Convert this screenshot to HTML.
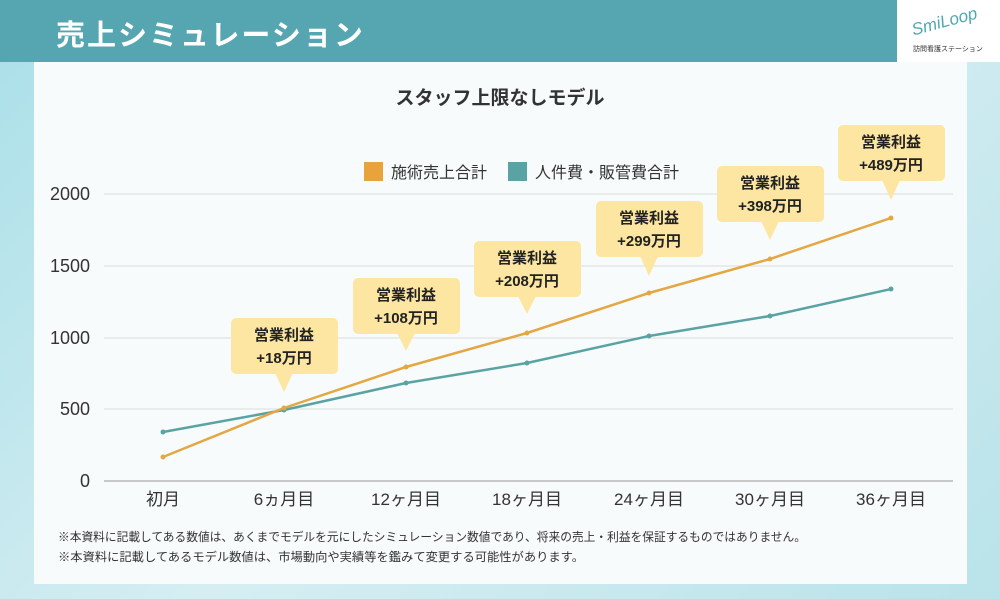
<!DOCTYPE html>
<html><head><meta charset="utf-8"><style>
body{margin:0;width:1000px;height:599px;overflow:hidden;font-family:"Liberation Sans","Noto Sans CJK JP",sans-serif;background:linear-gradient(135deg,#a9dfe8 0%,#d6eef2 50%,#b9e3ea 100%);position:relative}
.hdr{position:absolute;left:0;top:0;width:897px;height:62px;background:#56a6b1;}
.hdr span{position:absolute;left:56px;top:12px;color:#fff;font-size:29px;font-weight:bold;letter-spacing:2px}
.logo{position:absolute;left:897px;top:0;width:103px;height:62px;background:#fff}
.panel{position:absolute;left:34px;top:62px;width:933px;height:522px;background:#f8fbfb}
.t{position:absolute;font-family:"Liberation Sans","Noto Sans CJK JP",sans-serif}
</style></head><body>
<div class="hdr"><span>売上シミュレーション</span></div>
<div class="logo">
<div class="t" style="left:14px;top:12px;color:#4fa7b0;font-size:17px;font-style:italic;transform:rotate(-15deg)">SmiLoop</div>
<div class="t" style="left:16px;top:44px;color:#333;font-size:7px">訪問看護ステーション</div>
</div>
<div class="panel"></div>
<svg width="1000" height="599" style="position:absolute;left:0;top:0" font-family="Liberation Sans, Noto Sans CJK JP, sans-serif">
<text x="500" y="104" text-anchor="middle" font-size="19" font-weight="bold" fill="#333">スタッフ上限なしモデル</text>
<rect x="364" y="162" width="19" height="19" fill="#e8a33b"/>
<text x="391" y="178" font-size="16" fill="#333">施術売上合計</text>
<rect x="508" y="162" width="19" height="19" fill="#5aa3a4"/>
<text x="535" y="178" font-size="16" fill="#333">人件費・販管費合計</text>
<g stroke="#dcdcdc" stroke-width="1">
<line x1="104" y1="194" x2="953" y2="194"/><line x1="104" y1="266" x2="953" y2="266"/>
<line x1="104" y1="338" x2="953" y2="338"/><line x1="104" y1="409" x2="953" y2="409"/>
</g>
<line x1="104" y1="481" x2="953" y2="481" stroke="#c8c8c8" stroke-width="2"/>
<g font-size="18" fill="#333" text-anchor="end">
<text x="90" y="200">2000</text><text x="90" y="272">1500</text><text x="90" y="344">1000</text><text x="90" y="415">500</text><text x="90" y="487">0</text>
</g>
<g font-size="17" fill="#333" text-anchor="middle">
<text x="163" y="505">初月</text><text x="284" y="505">6ヵ月目</text><text x="406" y="505">12ヶ月目</text><text x="527" y="505">18ヶ月目</text><text x="649" y="505">24ヶ月目</text><text x="770" y="505">30ヶ月目</text><text x="891" y="505">36ヶ月目</text>
</g>
<polyline points="163,432 284,410 406,383 527,363 649,336 770,316 891,289" fill="none" stroke="#5aa3a4" stroke-width="2.5"/>
<polyline points="163,457 284,408 406,367 527,333 649,293 770,259 891,218" fill="none" stroke="#e3a743" stroke-width="2.5"/>
<g fill="#5aa3a4"><circle cx="163" cy="432" r="2.5"/><circle cx="284" cy="410" r="2.5"/><circle cx="406" cy="383" r="2.5"/><circle cx="527" cy="363" r="2.5"/><circle cx="649" cy="336" r="2.5"/><circle cx="770" cy="316" r="2.5"/><circle cx="891" cy="289" r="2.5"/></g>
<g fill="#e3a743"><circle cx="163" cy="457" r="2.5"/><circle cx="284" cy="408" r="2.5"/><circle cx="406" cy="367" r="2.5"/><circle cx="527" cy="333" r="2.5"/><circle cx="649" cy="293" r="2.5"/><circle cx="770" cy="259" r="2.5"/><circle cx="891" cy="218" r="2.5"/></g>
<g fill="#fce6a2" font-size="15" font-weight="bold" text-anchor="middle">
<g transform="translate(284,318)"><rect x="-53" y="0" width="107" height="56" rx="5"/><polygon points="-9,55 9,55 0,74"/><text y="22" fill="#222">営業利益</text><text y="45" fill="#222">+18万円</text></g>
<g transform="translate(406,278)"><rect x="-53" y="0" width="107" height="56" rx="5"/><polygon points="-9,55 9,55 0,73"/><text y="22" fill="#222">営業利益</text><text y="45" fill="#222">+108万円</text></g>
<g transform="translate(527,241)"><rect x="-53" y="0" width="107" height="56" rx="5"/><polygon points="-9,55 9,55 0,73"/><text y="22" fill="#222">営業利益</text><text y="45" fill="#222">+208万円</text></g>
<g transform="translate(649,201)"><rect x="-53" y="0" width="107" height="56" rx="5"/><polygon points="-9,55 9,55 0,75"/><text y="22" fill="#222">営業利益</text><text y="45" fill="#222">+299万円</text></g>
<g transform="translate(770,166)"><rect x="-53" y="0" width="107" height="56" rx="5"/><polygon points="-9,55 9,55 0,74"/><text y="22" fill="#222">営業利益</text><text y="45" fill="#222">+398万円</text></g>
<g transform="translate(891,125)"><rect x="-53" y="0" width="107" height="56" rx="5"/><polygon points="-9,55 9,55 0,75"/><text y="22" fill="#222">営業利益</text><text y="45" fill="#222">+489万円</text></g>
</g>
<g font-size="12" fill="#333">
<text x="58" y="541" textLength="748" lengthAdjust="spacingAndGlyphs">※本資料に記載してある数値は、あくまでモデルを元にしたシミュレーション数値であり、将来の売上・利益を保証するものではありません。</text>
<text x="58" y="561" textLength="526" lengthAdjust="spacingAndGlyphs">※本資料に記載してあるモデル数値は、市場動向や実績等を鑑みて変更する可能性があります。</text>
</g>
</svg>
</body></html>
